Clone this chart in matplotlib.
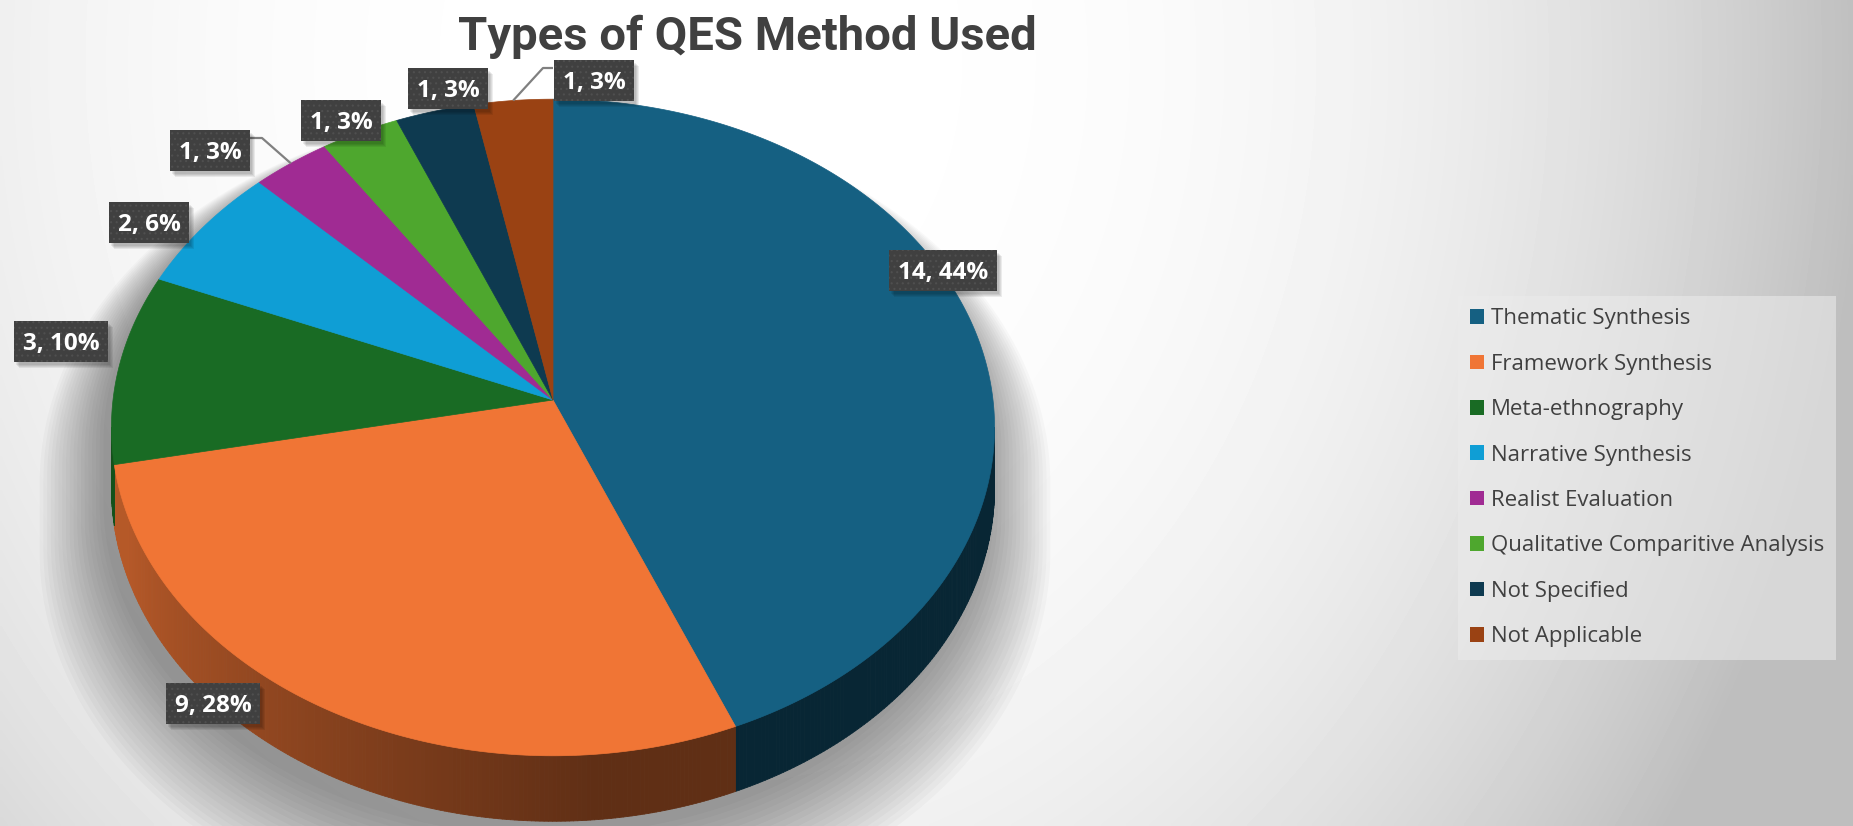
import numpy as np
import matplotlib
matplotlib.use("Agg")
import matplotlib.pyplot as plt
from matplotlib.patches import Polygon, Patch, Rectangle
from matplotlib.collections import PolyCollection
from matplotlib.colors import to_rgb

# ---------------- data ----------------
categories = ["Thematic Synthesis", "Framework Synthesis", "Meta-ethnography",
              "Narrative Synthesis", "Realist Evaluation",
              "Qualitative Comparitive Analysis", "Not Specified", "Not Applicable"]
counts = [14, 9, 3, 2, 1, 1, 1, 1]
pct_labels = ["44%", "28%", "10%", "6%", "3%", "3%", "3%", "3%"]
colors = ["#156082", "#F07535", "#196B24", "#0F9ED5", "#A02B93",
          "#4EA72E", "#0E3A50", "#9A4213"]

# ---------------- layout ----------------
W, H = 1853, 826
label_centers = [(943, 270), (213, 703), (61, 341), (149, 222),
                 (210, 150), (341, 120), (448, 88), (594, 80)]
# leader lines: index -> (elbow point, box attach point)
leaders = {4: ((262, 138), (250, 138)), 7: ((543, 68), (553, 68))}

CX, CY, A, B, K, D = 553, 400, 440, 326, 0.0837, 60

fig = plt.figure(figsize=(W / 100, H / 100), dpi=100)
ax = fig.add_axes([0, 0, 1, 1])
ax.set_xlim(0, W)
ax.set_ylim(H, 0)
ax.axis("off")

# background gradient
yy, xx = np.mgrid[0:H:4, 0:W:4].astype(float)
dx = (xx - 700) / 752.0
dy = (yy - 60) / 752.0 * 0.85
d = np.sqrt(dx ** 2 + dy ** 2)
bg = 1 - 0.075 * d ** 2.8
bg = np.clip(bg, 0.745, 1.0)
ax.imshow(bg, cmap="gray", vmin=0, vmax=1, extent=[0, W, H, 0],
          interpolation="bilinear", aspect="auto", zorder=0)


def proj(theta_deg, r=1.0):
    t = np.radians(theta_deg)
    u = r * np.sin(t)
    v = r * np.cos(t)
    w = 1 + K * v
    return CX + A * u / w, CY - B * v / w, w


total = float(sum(counts))
bounds = np.concatenate([[0], np.cumsum(counts)]) / total * 360.0

# silhouette angles
ths = np.linspace(0, 360, 7201)
xs, _, _ = proj(ths)
th_right = ths[np.argmax(xs)]
th_left = ths[np.argmin(xs)]

# soft shadow (spreads sideways and downward only)
back = np.linspace(th_left, th_right + 360, 200)
front = np.linspace(th_right, th_left, 200)
bx, by, _ = proj(back)
fx, fy, fw = proj(front)
fy = fy + D / fw
ox = np.concatenate([bx, fx])
oy = np.concatenate([by, fy])
top_y = oy.min()
for i in range(18):
    s = 1.0 + 0.0085 * i
    px = CX + (ox - CX) * s - 8
    py = top_y + 40 + (oy - top_y - 40) * s + 14
    ax.add_patch(Polygon(np.column_stack([px, py]), closed=True,
                         fc="black", ec="none", alpha=0.024, zorder=1))

# side walls
polys, pcols = [], []
for i, c in enumerate(colors):
    a0, a1 = max(bounds[i], th_right), min(bounds[i + 1], th_left)
    if a1 <= a0:
        continue
    n = max(2, int((a1 - a0) / 0.5))
    tt = np.linspace(a0, a1, n + 1)
    base = np.array(to_rgb(c))
    for j in range(n):
        t0, t1 = tt[j], tt[j + 1]
        x0, y0, w0 = proj(t0)
        x1, y1, w1 = proj(t1)
        polys.append([(x0, y0), (x1, y1), (x1, y1 + D / w1), (x0, y0 + D / w0)])
        tm = 0.5 * (t0 + t1)
        f = 0.40 + 0.36 * np.clip((tm - 175) / 75.0, 0, 1)
        pcols.append(np.clip(base * f, 0, 1))
ax.add_collection(PolyCollection(polys, facecolors=pcols, edgecolors=pcols,
                                 linewidths=0.6, zorder=2))

# top faces
for i, c in enumerate(colors):
    tt = np.linspace(bounds[i], bounds[i + 1], max(3, int(counts[i] * 30)))
    x, y, _ = proj(tt)
    pts = np.column_stack([np.concatenate([[CX], x]), np.concatenate([[CY], y])])
    ax.add_patch(Polygon(pts, closed=True, fc=c, ec=c, lw=0.5, zorder=3))

# leader lines
for i, (elbow, attach) in leaders.items():
    mid = 0.5 * (bounds[i] + bounds[i + 1])
    ex, ey, _ = proj(mid)
    ax.plot([attach[0], elbow[0], ex], [attach[1], elbow[1], ey],
            color="#808080", lw=1.6, zorder=4, solid_capstyle="butt")

# title
ax.text(747, 50, "Types of QES Method Used", ha="center", va="baseline",
        fontsize=34, fontweight="bold", color="#404040", family="Roboto",
        zorder=6)

# data labels
plt.rcParams["hatch.linewidth"] = 0.8
texts = []
for i, (cx, cy) in enumerate(label_centers):
    t = ax.text(cx, cy + 9, f"{counts[i]}, {pct_labels[i]}", ha="center",
                va="baseline", fontsize=17.5, fontweight="bold", color="white",
                family="Open Sans", zorder=8)
    texts.append(t)

fig.canvas.draw()
rend = fig.canvas.get_renderer()
inv = ax.transData.inverted()
for i, t in enumerate(texts):
    bb = t.get_window_extent(rend)
    (x0, _), (x1, _) = inv.transform([(bb.x0, bb.y0), (bb.x1, bb.y1)])
    cx, cy = label_centers[i]
    bw = abs(x1 - x0) + 18
    bh = 41
    for k in range(4):
        ax.add_patch(Rectangle((cx - bw / 2 + 2 + k, cy - bh / 2 + 3 + k), bw, bh,
                               fc="black", ec="none", alpha=0.07, zorder=6))
    ax.add_patch(Rectangle((cx - bw / 2, cy - bh / 2), bw, bh, fc="#404040",
                           ec="#4f4f4f", lw=0, hatch="...", zorder=7))

# legend
handles = [Patch(facecolor=c, edgecolor="none") for c in colors]
leg = ax.legend(handles, categories, loc="upper left",
                bbox_to_anchor=(1458 / W, 1 - 296 / H), bbox_transform=ax.transAxes,
                prop=dict(family="Open Sans", size=16), labelcolor="#404040",
                frameon=True, facecolor="#ececec", edgecolor="none", framealpha=0.55,
                fancybox=False, handlelength=0.63, handleheight=0.63,
                handletextpad=0.3, labelspacing=1.1, borderpad=0.55,
                borderaxespad=0)
leg.set_zorder(9)

fig.savefig("out.png", dpi=100)
